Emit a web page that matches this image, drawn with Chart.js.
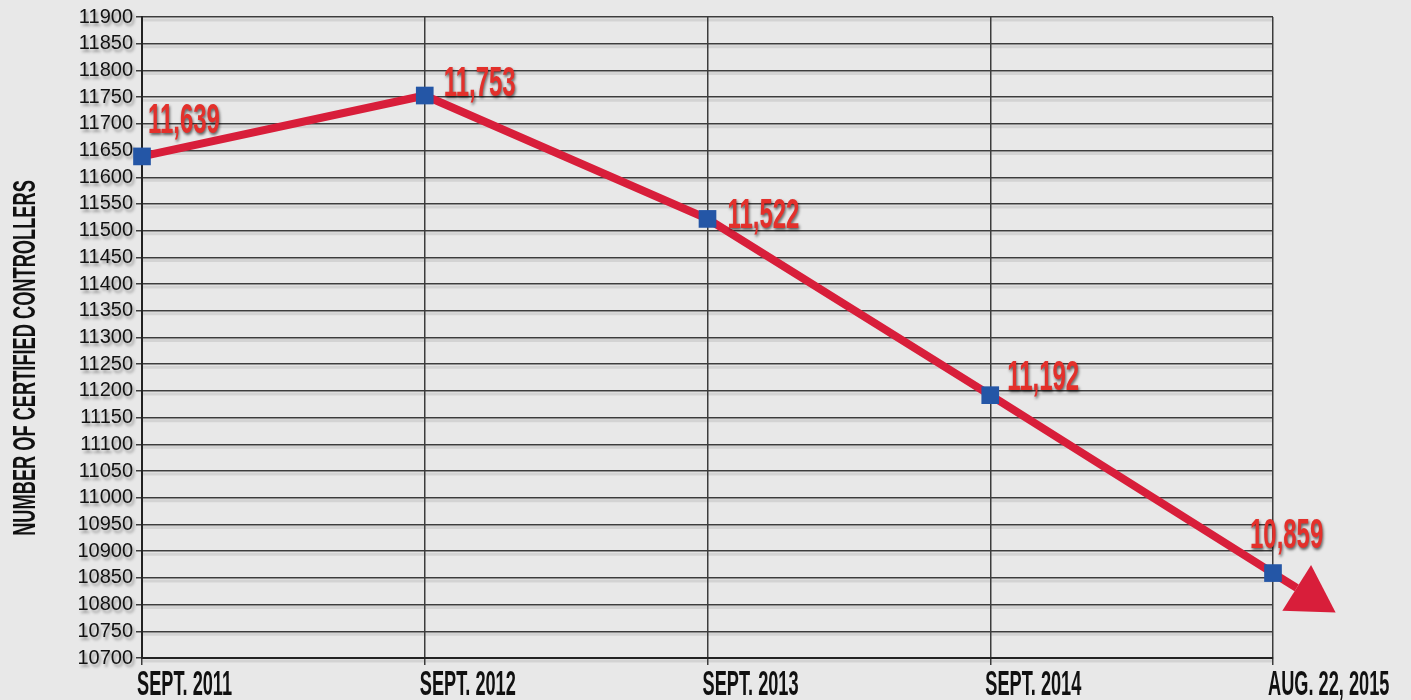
<!DOCTYPE html>
<html><head><meta charset="utf-8">
<script src="https://cdn.jsdelivr.net/npm/chart.js@4"></script>
<style>
html,body{margin:0;padding:0;background:#e8e8e8;overflow:hidden}
#wrap{width:1411px;height:700px;position:relative}
canvas{display:block}
</style></head>
<body><div id="wrap"><canvas id="c" width="1411" height="700"></canvas></div>
<script>
const categories = ['SEPT. 2011', 'SEPT. 2012', 'SEPT. 2013', 'SEPT. 2014', 'AUG. 22, 2015'];
const controllers = [11639, 11753, 11522, 11192, 10859];
const valueLabels = ['11,639', '11,753', '11,522', '11,192', '10,859'];
const yAxisTitle = 'NUMBER OF CERTIFIED CONTROLLERS';
const yMin = 10700, yMax = 11900, yStep = 50;

const FONT = '"Liberation Sans", Arial, sans-serif';

function condText(ctx, text, x, y, px, sx, align, color, shadow, rot) {
  ctx.save();
  ctx.translate(x, y);
  if (rot) ctx.rotate(rot);
  ctx.scale(sx, 1);
  ctx.font = 'bold ' + px + 'px ' + FONT;
  ctx.textAlign = align;
  ctx.textBaseline = 'alphabetic';
  if (shadow) {
    ctx.shadowColor = shadow.color;
    ctx.shadowOffsetX = shadow.x;
    ctx.shadowOffsetY = shadow.y;
    ctx.shadowBlur = shadow.blur;
  }
  ctx.fillStyle = color;
  ctx.fillText(text, 0, 0);
  ctx.restore();
}

const decor = {
  id: 'decor',
  afterLayout(chart) {
    const s = chart.scales.y;
    if (!s._shadowWrapped) {
      const orig = s.drawLabels.bind(s);
      s.drawLabels = function (ca) {
        const ctx = this.ctx;
        ctx.save();
        ctx.shadowColor = 'rgba(0,0,0,0.35)';
        ctx.shadowOffsetX = 2; ctx.shadowOffsetY = 3; ctx.shadowBlur = 3;
        orig(ca);
        ctx.restore();
      };
      s._shadowWrapped = true;
    }
  },
  beforeDraw(chart) {
    const ctx = chart.ctx, a = chart.chartArea, y = chart.scales.y;
    ctx.save();
    ctx.strokeStyle = 'rgba(0,0,0,0.09)';
    ctx.lineWidth = 3;
    y.ticks.forEach((t, i) => {
      const py = y.getPixelForTick(i) + 3;
      ctx.beginPath(); ctx.moveTo(a.left, py); ctx.lineTo(a.right, py); ctx.stroke();
    });
    ctx.restore();
  },
  beforeDatasetsDraw(chart) {
    const ctx = chart.ctx, x = chart.scales.x, y = chart.scales.y;
    const n = controllers.length;
    const x1 = x.getPixelForValue(n - 2), y1 = y.getPixelForValue(controllers[n - 2]);
    const x2 = x.getPixelForValue(n - 1), y2 = y.getPixelForValue(controllers[n - 1]);
    const dx = x2 - x1, dy = y2 - y1, L = Math.hypot(dx, dy);
    const ux = dx / L, uy = dy / L, nx = -uy, ny = ux;
    const bx = x2 + ux * 28, by = y2 + uy * 28;
    const tx = x2 + ux * 74, ty = y2 + uy * 74;
    ctx.save();
    ctx.strokeStyle = '#d81e3a';
    ctx.lineWidth = 8;
    ctx.beginPath(); ctx.moveTo(x2, y2); ctx.lineTo(bx, by); ctx.stroke();
    ctx.fillStyle = '#d81e3a';
    ctx.beginPath();
    ctx.moveTo(tx, ty);
    ctx.lineTo(bx + nx * 27, by + ny * 27);
    ctx.lineTo(bx - nx * 27, by - ny * 27);
    ctx.closePath(); ctx.fill();
    ctx.restore();
  },
  afterDraw(chart) {
    const ctx = chart.ctx, x = chart.scales.x, y = chart.scales.y;
    const off = [[6, -23], [19, 0], [20, 9], [17, -5], [-23, -25]];
    controllers.forEach((v, i) => {
      const px = x.getPixelForValue(i), py = y.getPixelForValue(v);
      condText(ctx, valueLabels[i], px + off[i][0], py + off[i][1], 42, 0.57, 'left', '#e3302b',
        {color: 'rgba(0,0,0,0.6)', x: 1, y: 2, blur: 3});
    });
    categories.forEach((c, i) => {
      condText(ctx, c, x.getPixelForValue(i) - 5, 695, 35, 0.52, 'left', '#111', null);
    });
    condText(ctx, yAxisTitle, 35, 358, 32, 0.57, 'center', '#111', null, -Math.PI / 2);
  }
};

new Chart(document.getElementById('c'), {
  type: 'line',
  data: {
    labels: categories,
    datasets: [{
      data: controllers,
      borderColor: '#d81e3a',
      borderWidth: 8,
      tension: 0,
      pointStyle: 'rect',
      pointRadius: 12.5,
      pointHoverRadius: 12.5,
      pointBackgroundColor: '#2456a6',
      pointBorderWidth: 0,
      clip: false
    }]
  },
  options: {
    responsive: false,
    maintainAspectRatio: false,
    animation: false,
    devicePixelRatio: 1,
    layout: {padding: {top: 17, right: 138, left: 0, bottom: 0}},
    plugins: {legend: {display: false}, tooltip: {enabled: false}},
    scales: {
      x: {
        offset: false,
        grid: {color: '#3c3c3c', lineWidth: 1.5, tickLength: 7, drawTicks: true},
        border: {color: '#222', width: 2},
        ticks: {color: 'rgba(0,0,0,0)', font: {size: 12}},
        afterFit(s) { s.height = 42; }
      },
      y: {
        min: yMin, max: yMax,
        grid: {color: '#3c3c3c', lineWidth: 1.5, tickLength: 6},
        border: {color: '#222', width: 2},
        ticks: {stepSize: yStep, autoSkip: false, color: '#111', padding: 3,
          font: {family: FONT, size: 20},
          callback: (v) => String(v)},
        afterFit(s) { s.width = 142; }
      }
    }
  },
  plugins: [decor]
});
</script>
</body></html>
